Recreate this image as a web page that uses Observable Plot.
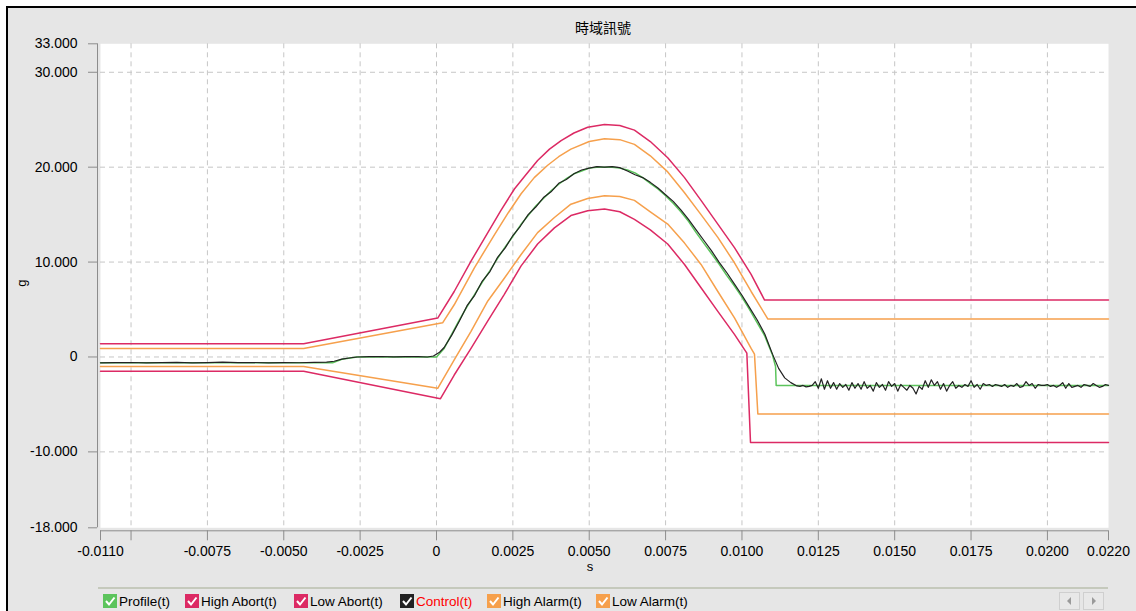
<!DOCTYPE html>
<html>
<head>
<meta charset="utf-8">
<script src="https://cdn.jsdelivr.net/npm/d3@7"></script>
<script src="https://cdn.jsdelivr.net/npm/@observablehq/plot@0.6"></script>
<style>
  body { margin: 0; background: #fff; }
  #wrap { position: relative; width: 1136px; height: 611px; overflow: hidden; background: #fff;
          font-family: 'Liberation Sans', Arial, sans-serif; }
  #panel { position: absolute; left: 6px; top: 6px; right: 0; bottom: 0; background: #e6e6e6;
           border-left: 2px solid #000; border-top: 2px solid #000; }
  #title { position: absolute; left: 503px; width: 200px; top: 18px; text-align: center;
           font: 14px/18px 'Noto Sans CJK TC', sans-serif; color: #000; }
  #chart { position: absolute; left: 0; top: 0; }
  #ylab { position: absolute; left: 12px; top: 275px; width: 20px; height: 16px; text-align: center;
          font-size: 13px; line-height: 16px; transform: rotate(-90deg); }
  #xlab { position: absolute; left: 580px; width: 20px; top: 559px; text-align: center; font-size: 13px; line-height: 16px; }
  #sep { position: absolute; left: 98px; top: 587px; width: 1010px; height: 2px; background: #c5c9bc; }
  .item { position: absolute; top: 593px; height: 16px; display: flex; align-items: center; font-size: 13.5px; white-space: nowrap; }
  .item svg { margin-right: 2px; }
  .sbtn { position: absolute; top: 592px; width: 21px; height: 18px; border: 1px solid #cfcfcf; box-sizing: border-box; background: #e8e8e8; }
</style>
</head>
<body>
<div id="wrap">
  <div id="panel"></div>
  <div id="title">時域訊號</div>
  <div id="chart"></div>
  <div id="ylab">g</div>
  <div id="xlab">s</div>
  <div id="sep"></div>
  <div id="legend"></div>
  <div class="sbtn" style="left:1059px"><svg width="19" height="16"><path d="M7 8 L11 4 L11 12 Z" fill="#9a9a9a"/></svg></div>
  <div class="sbtn" style="left:1083px"><svg width="19" height="16"><path d="M12 8 L8 4 L8 12 Z" fill="#9a9a9a"/></svg></div>
</div>
<script>
// ---- data (time in ms, acceleration in g) ----
const profile = [
  [-11,-0.6],[-3.4,-0.6],[-3.1,-0.25],[-2.6,0],[0,0],[0.25,0.9],[0.5,2.4],[0.75,3.9],[1.0,5.3],[1.25,6.6],
  [1.5,7.9],[1.75,9.1],[2.0,10.4],[2.25,11.6],[2.5,12.7],[2.75,13.9],[3.0,14.9],[3.25,15.9],[3.5,16.7],
  [3.75,17.5],[4.0,18.2],[4.25,18.8],[4.5,19.3],[4.75,19.6],[5.0,19.9],[5.25,20.0],[5.5,20.0],[5.75,20.0],
  [6.0,19.9],[6.25,19.7],[6.5,19.4],[6.75,18.9],[7.0,18.3],[7.25,17.7],[7.5,17.0],[7.75,16.2],[8.0,15.3],
  [8.25,14.3],[8.5,13.1],[8.75,12.0],[9.0,10.9],[9.25,9.8],[9.5,8.6],[9.75,7.5],[10.0,6.3],[10.25,5.0],
  [10.5,3.6],[10.75,2.2],[11.0,0.2],[11.1,-1.0],[11.12,-3.0],[22,-3.0]
];
const highAbort = [
  [-11,1.4],[-4.35,1.4],[0.04,4.1],[0.58,6.9],[1.13,10.1],[1.68,13.1],[2.1,15.4],[2.55,17.7],[2.9,19.1],
  [3.31,20.7],[3.7,21.9],[4.08,22.8],[4.5,23.6],[4.95,24.2],[5.5,24.5],[6.0,24.4],[6.48,23.9],[7.0,22.7],
  [7.57,21.0],[8.12,18.9],[8.66,16.5],[9.21,14.0],[9.76,11.5],[10.3,8.7],[10.74,6.0],[22,6.0]
];
const highAlarm = [
  [-11,0.9],[-4.35,0.9],[0.2,3.6],[0.58,5.5],[1.24,9.4],[1.9,12.9],[2.35,15.2],[2.77,17.2],[3.2,18.9],
  [3.64,20.2],[4.0,21.1],[4.4,21.9],[5.0,22.7],[5.5,23.0],[6.0,22.9],[6.48,22.4],[7.0,21.2],[7.57,19.5],
  [8.12,17.3],[8.66,15.0],[9.21,12.6],[9.76,9.9],[10.3,6.9],[10.85,4.0],[22,4.0]
];
const lowAlarm = [
  [-11,-1.0],[-4.35,-1.0],[0.04,-3.3],[0.58,-0.3],[1.13,2.7],[1.68,5.9],[2.22,8.3],[2.77,10.8],[3.31,13.1],
  [3.86,14.7],[4.4,16.1],[4.95,16.7],[5.5,17.0],[6.0,16.9],[6.48,16.5],[7.0,15.3],[7.57,14.0],[8.12,12.0],
  [8.66,9.75],[9.21,6.9],[9.76,4.1],[10.3,0.9],[10.41,0.3],[10.52,-6.0],[22,-6.0]
];
const lowAbort = [
  [-11,-1.5],[-4.35,-1.5],[0.13,-4.4],[0.58,-1.9],[1.13,0.9],[1.68,3.8],[2.22,6.6],[2.77,9.6],[3.31,11.9],
  [3.86,13.6],[4.4,14.9],[4.95,15.4],[5.5,15.6],[6.0,15.3],[6.48,14.5],[7.0,13.4],[7.57,11.9],[8.12,9.75],
  [8.66,7.3],[9.21,4.8],[9.76,2.35],[10.16,0.4],[10.28,-9.0],[22,-9.0]
];
const control = [
  [-11.0,-0.62],[-10.5,-0.60],[-10.0,-0.58],[-9.5,-0.63],[-9.0,-0.60],[-8.5,-0.57],[-8.0,-0.62],[-7.5,-0.59],
  [-7.0,-0.55],[-6.5,-0.60],[-6.0,-0.58],[-5.5,-0.63],[-5.0,-0.60],[-4.5,-0.61],[-4.0,-0.56],[-3.6,-0.55],
  [-3.35,-0.45],[-3.1,-0.22],[-2.8,-0.08],[-2.6,0.0],[-2.2,0.03],[-1.8,0.05],[-1.4,0.02],[-1.0,0.04],
  [-0.6,0.03],[-0.3,0.0],[-0.1,0.1],[0.1,0.5],[0.25,1.0],[0.5,2.3],[0.75,3.8],[1.0,5.4],[1.25,6.5],[1.5,8.0],
  [1.75,9.0],[2.0,10.5],[2.25,11.5],[2.5,12.8],[2.75,13.8],[3.0,15.0],[3.25,15.8],[3.5,16.8],[3.75,17.4],
  [4.0,18.3],[4.25,18.7],[4.5,19.3],[4.75,19.7],[5.0,19.9],[5.25,20.05],[5.5,20.0],[5.75,20.05],[6.0,19.95],
  [6.25,19.6],[6.5,19.2],[6.75,18.9],[7.0,18.4],[7.25,17.8],[7.5,17.1],[7.75,16.4],[8.0,15.5],[8.25,14.5],
  [8.5,13.4],[8.75,12.3],[9.0,11.2],[9.25,10.0],[9.5,8.9],[9.75,7.7],[10.0,6.5],[10.25,5.2],[10.5,3.9],
  [10.75,2.4],[11.0,0.3],[11.2,-1.2],[11.4,-2.2],[11.6,-2.7],[11.8,-3.05],
  [11.9,-3.1],[12.0,-3.0],[12.1,-3.15],[12.2,-3.1],[12.3,-3.0],[12.4,-2.6],[12.5,-3.3],[12.6,-2.3],[12.7,-3.4],
  [12.8,-2.5],[12.9,-3.3],[13.0,-2.7],[13.1,-3.4],[13.2,-2.8],[13.3,-3.2],[13.4,-2.9],[13.5,-3.5],[13.6,-2.7],
  [13.7,-3.3],[13.8,-2.8],[13.9,-3.4],[14.0,-2.6],[14.1,-3.3],[14.2,-3.0],[14.3,-3.6],[14.4,-2.7],[14.5,-3.2],
  [14.6,-2.9],[14.7,-3.5],[14.8,-2.6],[14.9,-3.1],[15.0,-2.8],[15.1,-3.6],[15.2,-2.9],[15.3,-3.2],[15.4,-3.5],
  [15.5,-3.0],[15.6,-3.3],[15.7,-3.9],[15.8,-3.1],[15.9,-3.4],[16.0,-2.5],[16.1,-3.2],[16.2,-2.4],[16.3,-3.0],
  [16.4,-2.6],[16.5,-3.4],[16.6,-2.8],[16.7,-3.6],[16.8,-3.0],[16.9,-2.6],[17.0,-3.3],[17.1,-3.0],[17.2,-3.2],
  [17.3,-2.9],[17.4,-3.1],[17.5,-2.5],[17.6,-3.2],[17.7,-2.9],[17.8,-3.4],[17.9,-2.8],[18.0,-3.0],[18.1,-2.9],
  [18.2,-3.1],[18.3,-2.9],[18.4,-3.0],[18.5,-3.1],[18.6,-2.9],[18.7,-3.2],[18.8,-3.0],[18.9,-3.1],[19.0,-2.8],
  [19.1,-3.2],[19.2,-3.1],[19.3,-2.6],[19.4,-3.0],[19.5,-2.8],[19.6,-3.3],[19.7,-2.9],[19.8,-3.0],[19.9,-3.0],
  [20.0,-2.9],[20.1,-3.1],[20.2,-3.0],[20.3,-3.2],[20.4,-3.0],[20.5,-2.7],[20.6,-3.3],[20.7,-2.8],[20.8,-3.2],
  [20.9,-3.1],[21.0,-3.0],[21.1,-3.2],[21.2,-2.9],[21.3,-3.0],[21.4,-3.1],[21.5,-2.8],[21.6,-3.0],[21.7,-3.2],
  [21.8,-3.1],[21.9,-2.9],[22.0,-3.0]
];
const xTicks = [-0.011,-0.01,-0.0075,-0.005,-0.0025,0,0.0025,0.005,0.0075,0.01,0.0125,0.015,0.0175,0.02,0.022];
const xGrid = [-0.01,-0.0075,-0.005,-0.0025,0,0.0025,0.005,0.0075,0.01,0.0125,0.015,0.0175,0.02];
const yTicks = [33,30,20,10,0,-10,-18];
const yGrid = [30,20,10,0,-10];
const seriesNames = ["Profile(t)","High Abort(t)","Low Abort(t)","Control(t)","High Alarm(t)","Low Alarm(t)"];
const seriesColors = ["#5cc45c","#dc2a64","#dc2a64","#222222","#f6a04c","#f6a04c"];

// ---- chart ----
const rows = arr => arr.map(([t, g]) => ({t: t / 1000, g}));
const fmtX = d => Math.abs(d + 0.01) < 1e-9 ? "" : (d === 0 ? "0" : d.toFixed(4));
const fmtY = d => d === 0 ? "0" : d.toFixed(3);
const axisGray = "#8c8c8c";
const gridStyle = {stroke: "#c6c6c6", strokeOpacity: 1, strokeDasharray: "5,4"};
const lineOpts = (c, w) => ({x: "t", y: "g", stroke: c, strokeWidth: w});

const chart = Plot.plot({
  width: 1136, height: 575,
  marginLeft: 100, marginRight: 28, marginTop: 43.3, marginBottom: 47.7,
  x: {domain: [-0.011, 0.022]},
  y: {domain: [-18, 33]},
  style: {background: "transparent", fontFamily: "'Liberation Sans', Arial, sans-serif", fontSize: "14px", color: "black"},
  marks: [
    Plot.frame({fill: "white", stroke: "none"}),
    Plot.gridX(xGrid, gridStyle),
    Plot.gridY(yGrid, gridStyle),
    Plot.ruleX([-0.011], {stroke: axisGray, dx: -3}),
    Plot.ruleY([-18], {stroke: axisGray, dy: 3}),
    Plot.axisY(yTicks, {tickSize: 9, tickPadding: 11, dx: -3, stroke: axisGray, fill: "black", tickFormat: fmtY, label: null}),
    Plot.axisX(xTicks, {tickSize: 10, tickPadding: 5, dy: 3, stroke: axisGray, fill: "black", tickFormat: fmtX, label: null}),
    Plot.line(rows(lowAbort), lineOpts(seriesColors[2], 1.5)),
    Plot.line(rows(highAbort), lineOpts(seriesColors[1], 1.5)),
    Plot.line(rows(lowAlarm), lineOpts(seriesColors[5], 1.5)),
    Plot.line(rows(highAlarm), lineOpts(seriesColors[4], 1.5)),
    Plot.line(rows(profile), lineOpts(seriesColors[0], 1.5)),
    Plot.line(rows(control), lineOpts(seriesColors[3], 1.2))
  ]
});
document.getElementById("chart").appendChild(chart);

// ---- legend ----
const legendX = [103, 185, 294, 400, 487, 596];
const legend = document.getElementById("legend");
seriesNames.forEach((name, i) => {
  const d = document.createElement("div");
  d.className = "item";
  d.style.left = legendX[i] + "px";
  const textColor = name === "Control(t)" ? "#ff0000" : "#000";
  d.innerHTML = `<svg width="14" height="14"><rect x="0.5" y="0.5" width="13" height="13" fill="${seriesColors[i]}" stroke="${seriesColors[i]}"/><path d="M3 7 L6 10.5 L11.5 3.5" stroke="white" stroke-width="2" fill="none"/></svg><span style="color:${textColor}">${name}</span>`;
  legend.appendChild(d);
});
</script>
</body>
</html>
